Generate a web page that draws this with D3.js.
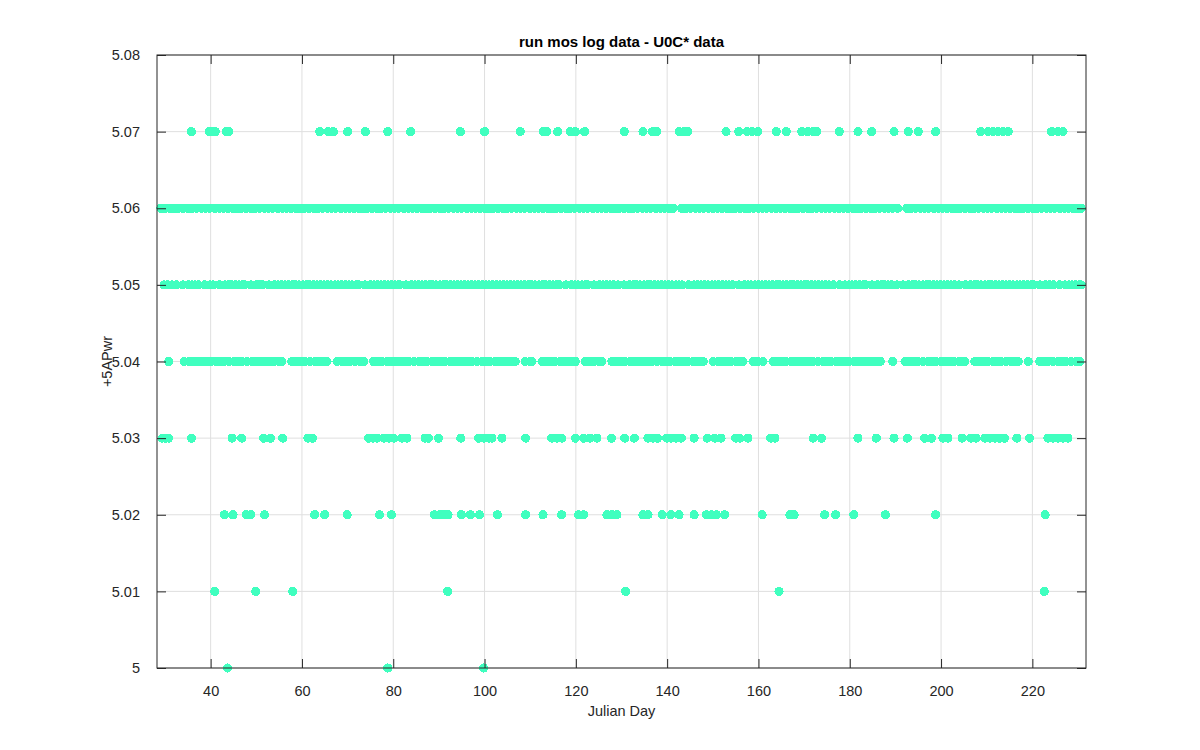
<!DOCTYPE html>
<html lang="en">
<head>
<meta charset="UTF-8">
<title>run mos log data - U0C* data</title>
<script src="https://cdn.jsdelivr.net/npm/d3@7"></script>
<style>
  body { margin: 0; background: #fff; font-family: "Liberation Sans", Arial, sans-serif; }
  svg { display: block; }
  .tick text { fill: #262626; font-size: 14.5px; }
</style>
</head>
<body>
<svg width="1200" height="750"></svg>
<script>
// julian day of each sample, grouped by the +5APwr reading
const day500 = [43.7, 78.8, 99.8];
const day501 = [40.9, 49.9, 58.0, 91.9, 130.9, 164.5, 222.6];
const day502 = [43.0, 44.9, 47.8, 48.8, 51.8, 62.8, 65.0, 69.9, 77.0, 79.6, 89.0, 90.2, 91.1, 92.0,
  94.9, 96.9, 98.9, 102.8, 109.0, 112.8, 116.9, 120.6, 121.7, 126.8, 127.9, 129.0, 134.7, 135.8,
  138.9, 140.8, 142.6, 145.9, 148.6, 149.7, 150.8, 152.6, 160.8, 166.9, 167.8, 174.5, 176.9, 180.9,
  187.8, 198.8, 222.8];
const day503 = [29.4, 30.1, 30.8, 35.8, 44.7, 46.8, 51.6, 53.1, 55.8, 61.3, 62.3, 74.6, 75.5, 76.4,
  77.9, 79.0, 80.1, 81.9, 83.0, 87.0, 87.7, 89.9, 94.8, 98.7, 99.8, 100.9, 101.6, 103.8, 109.0,
  114.7, 115.8, 116.9, 119.9, 121.7, 123.1, 124.6, 127.8, 130.7, 132.8, 135.8, 136.9, 137.9, 139.9,
  140.9, 142.0, 143.1, 145.9, 148.8, 150.4, 151.8, 155.0, 155.9, 157.7, 162.7, 163.6, 172.0, 173.8,
  181.8, 185.8, 189.7, 192.6, 196.4, 197.9, 200.4, 201.5, 204.6, 206.5, 207.7, 209.6, 210.7, 211.8,
  212.8, 213.9, 216.6, 219.4, 223.4, 224.5, 225.6, 226.7, 227.8];
const day504 = [30.8,
  34.2, 35.2, 36.1, 37.1, 38.2, 39.1, 40.0, 41.1, 42.1, 43.0, 44.0, 45.1, 46.0, 46.9, 48.0, 49.0,
  49.9, 50.9, 52.0, 52.9, 53.8, 54.9, 55.6,
  57.8, 58.8, 59.8, 60.7, 61.8, 62.8, 63.7, 64.7, 65.5,
  67.7, 68.7, 69.7, 70.6, 71.7, 72.7, 73.5,
  75.7, 76.6, 77.6, 78.7, 79.6, 80.5, 81.6, 82.6, 83.5, 84.5, 85.6, 86.5, 87.4, 88.5, 89.5, 90.4,
  91.4, 92.5, 93.4, 94.3, 95.4, 96.4, 97.3, 98.3, 99.4, 100.3, 101.2, 102.3, 103.3, 104.2, 105.2,
  106.0, 106.7,
  108.9, 109.9, 110.4,
  112.6, 113.6, 114.5, 115.5, 116.6, 117.5, 118.4, 119.5, 119.9,
  122.1, 123.0, 124.0, 125.0, 125.7,
  127.9, 128.9, 129.8, 130.8, 131.9, 132.8, 133.7, 134.8, 135.8, 136.7, 137.7, 138.8, 139.7, 140.6,
  141.7, 142.7, 143.6, 144.6, 145.7, 146.6, 147.5, 147.9,
  150.1, 151.1, 152.1, 153.0, 154.0, 155.1, 156.0, 156.6,
  158.8, 159.8, 161.0,
  163.2, 164.2, 165.1, 166.1, 167.2, 168.1, 169.0, 170.1, 171.1, 172.0, 173.0, 174.1, 175.0, 175.9,
  177.0, 178.0, 178.9, 179.9, 181.0, 181.9, 182.8, 183.9, 184.9, 185.8, 186.7,
  189.4,
  192.1, 193.1, 194.1, 195.0, 196.0, 197.1, 198.0, 198.9, 200.0, 201.0, 201.9, 202.9, 204.0, 204.9,
  205.2,
  207.4, 208.4, 209.3, 210.3, 211.4, 212.3, 213.2, 214.3, 215.3, 216.2, 216.9,
  219.1,
  221.6, 222.6, 223.5, 224.5, 225.6, 226.5, 227.4, 228.5, 229.5, 230.4];
const day505 = [29.8, 30.6, 31.5, 32.5,
  33.9, 35.1, 35.9, 36.6, 37.3,
  38.7, 39.9, 40.5,
  41.9, 43.1, 43.9, 44.6, 45.4, 46.2, 47.0, 47.4,
  48.8, 50.0, 50.7, 51.4,
  52.8, 54.0, 54.8, 55.5, 56.3, 57.1, 57.9, 58.6, 59.4, 60.2, 61.0, 61.7, 62.5, 63.3, 64.1, 64.8,
  65.6, 66.4, 67.2, 67.9, 68.7, 69.5, 70.3, 71.0, 71.8, 72.4,
  73.8, 75.0, 75.8, 76.5, 77.3, 78.1, 78.9, 79.6, 80.4, 81.0, 81.4,
  82.8, 84.0, 84.8, 85.5, 86.3, 87.1, 87.9, 88.6, 89.4, 90.2, 91.0, 91.7, 92.5, 93.3, 94.1, 94.8,
  95.6, 96.4, 97.2, 97.9, 98.7, 99.5, 100.3, 101.0, 101.8, 102.6, 103.4, 104.1, 104.9, 105.7,
  106.5, 107.2, 108.0, 108.8, 109.6, 110.3, 111.1, 111.9, 112.7, 113.4, 114.2, 115.0, 115.8, 116.4,
  117.8, 119.0, 119.8, 120.5, 121.3, 122.0, 122.6,
  124.0, 125.2, 126.0, 126.7, 127.5, 128.3, 129.2,
  130.6, 131.8, 132.6, 133.3, 134.1, 134.9, 135.7, 136.4, 137.2, 138.0, 138.8, 139.5, 140.3, 141.1,
  141.9, 142.6, 143.3,
  144.7, 145.9, 146.7, 147.4, 148.2, 149.0, 149.8, 150.5, 151.3, 152.1, 152.9, 153.6, 154.3,
  155.7, 156.9, 157.7, 158.4, 159.2, 160.0, 160.8, 161.5, 162.3, 163.1, 163.9, 164.6, 165.4, 166.2,
  167.0, 167.7, 168.5, 169.3, 170.1, 170.8, 171.6, 172.4, 173.2, 173.9, 174.7, 175.5, 176.4,
  177.8, 179.0, 179.8, 180.5, 181.3, 182.1, 182.9, 183.5,
  184.9, 186.1, 186.9, 187.6, 188.4, 189.2, 190.3,
  191.7, 192.9, 193.7, 194.4, 195.2, 196.0, 196.8, 197.5, 198.3, 199.1, 199.9, 200.6, 201.4, 202.2,
  203.0, 203.9,
  205.3, 206.5, 207.3, 208.0, 208.8, 209.6, 210.4, 211.1, 211.9, 212.7, 213.5, 214.2, 215.0, 215.8,
  216.6, 217.3, 218.1, 218.9, 219.7, 220.3,
  221.7, 222.9, 223.7, 224.6,
  226.0, 227.2, 228.0, 228.7, 229.5, 230.3, 230.7];
const day506 = [29.1, 30.0, 31.1, 32.0, 32.9, 34.0, 35.0, 35.9, 36.9, 38.0, 38.9, 39.8, 40.9, 41.9,
  42.8, 43.8, 44.9, 45.8, 46.7, 47.8, 48.8, 49.7, 50.7, 51.8, 52.7, 53.6, 54.7, 55.7, 56.6, 57.6,
  58.7, 59.6, 60.5, 61.6, 62.6, 63.5, 64.5, 65.6, 66.5, 67.4, 68.5, 69.5, 70.4, 71.4, 72.5, 73.4,
  74.3, 75.4, 76.4, 77.3, 78.3, 79.4, 80.3, 81.2, 82.3, 83.3, 84.2, 85.2, 86.3, 87.2, 88.1, 89.2,
  90.2, 91.1, 92.1, 93.2, 94.1, 95.0, 96.1, 97.1, 98.0, 99.0, 100.1, 101.0, 101.9, 103.0, 104.0,
  104.9, 105.9, 107.0, 107.9, 108.8, 109.9, 110.9, 111.8, 112.8, 113.9, 114.8, 115.7, 116.8, 117.8,
  118.7, 119.7, 120.8, 121.7, 122.6, 123.7, 124.7, 125.6, 126.6, 127.7, 128.6, 129.5, 130.6, 131.6,
  132.5, 133.5, 134.6, 135.5, 136.4, 137.5, 138.5, 139.4, 140.4, 141.3,
  143.2, 144.1, 145.1, 146.2, 147.1, 148.0, 149.1, 150.1, 151.0, 152.0, 153.1, 154.0, 154.9, 156.0,
  157.0, 157.9, 158.9, 160.0, 160.9, 161.8, 162.9, 163.9, 164.8, 165.8, 166.9, 167.8, 168.7, 169.8,
  170.8, 171.7, 172.7, 173.8, 174.7, 175.6, 176.7, 177.7, 178.6, 179.6, 180.7, 181.6, 182.5, 183.6,
  184.6, 185.5, 186.5, 187.6, 188.5, 189.4, 190.5,
  192.5, 193.4, 194.4, 195.5, 196.4, 197.3, 198.4, 199.4, 200.3, 201.3, 202.4, 203.3, 204.2, 205.3,
  206.3, 207.2, 208.2, 209.3, 210.2, 211.1, 212.2, 213.2, 214.1, 215.1, 216.2, 217.1, 218.0, 219.1,
  220.1, 221.0, 222.0, 223.1, 224.0, 224.9, 226.0, 227.0, 227.9, 228.9, 229.8, 230.7];
const day507 = [35.8, 39.7, 40.4, 41.0, 43.4, 44.0, 63.9, 65.8, 66.9, 70.0, 73.9, 78.8, 83.8, 94.7,
  100.0, 107.8, 112.9, 113.6, 116.0, 118.8, 119.9, 121.9, 130.6, 134.7, 136.8, 137.7, 142.7, 143.6,
  144.5, 152.9, 155.7, 157.5, 158.6, 159.8, 163.9, 166.1, 169.5, 170.8, 172.0, 172.8, 177.7, 181.8,
  184.8, 189.7, 192.8, 195.0, 198.8, 208.7, 210.3, 211.4, 212.5, 213.6, 214.7, 224.2, 225.6, 226.7];

const levels = [5.00, 5.01, 5.02, 5.03, 5.04, 5.05, 5.06, 5.07];
const daysByLevel = [day500, day501, day502, day503, day504, day505, day506, day507];
const xTicks = [40, 60, 80, 100, 120, 140, 160, 180, 200, 220];
const yTicks = [5, 5.01, 5.02, 5.03, 5.04, 5.05, 5.06, 5.07, 5.08];

const points = [];
levels.forEach((v, i) => daysByLevel[i].forEach(d => points.push({ day: d, value: v })));

const svg = d3.select("svg");
const margin = { left: 157, right: 114, top: 55, bottom: 82 };
const W = 1200, H = 750;
const iw = W - margin.left - margin.right, ih = H - margin.top - margin.bottom;
const g = svg.append("g").attr("transform", `translate(${margin.left},${margin.top})`);

const x = d3.scaleLinear().domain([28.25, 231.75]).range([0, iw]);
const y = d3.scaleLinear().domain([5, 5.08]).range([ih, 0]);
const axisColor = "#262626";
const tickLen = 9;

// grid
g.append("g").selectAll("line").data(xTicks).join("line")
  .attr("x1", d => x(d)).attr("x2", d => x(d)).attr("y1", 0).attr("y2", ih)
  .attr("stroke", "#dfdfdf").attr("stroke-width", 1);
g.append("g").selectAll("line").data(yTicks).join("line")
  .attr("y1", d => y(d)).attr("y2", d => y(d)).attr("x1", 0).attr("x2", iw)
  .attr("stroke", "#dfdfdf").attr("stroke-width", 1);

// data - aliased markers like the original export, so dense rows read as solid bands
g.append("g").attr("shape-rendering", "crispEdges")
  .selectAll("circle").data(points).join("circle")
  .attr("cx", d => x(d.day)).attr("cy", d => y(d.value))
  .attr("r", 4.6).attr("fill", "#40ffbf");

// axes (ticks point inward, mirrored on top/right)
const fmtY = d => d3.format(".2f")(d).replace(/\.?0+$/, "");
const xAxis = g.append("g").attr("transform", `translate(0,${ih})`)
  .call(d3.axisBottom(x).tickValues(xTicks).tickSize(-tickLen).tickPadding(18));
const yAxis = g.append("g")
  .call(d3.axisLeft(y).tickValues(yTicks).tickFormat(fmtY).tickSize(-tickLen).tickPadding(17));
const xTop = g.append("g")
  .call(d3.axisTop(x).tickValues(xTicks).tickSize(-tickLen).tickFormat(""));
const yRight = g.append("g").attr("transform", `translate(${iw},0)`)
  .call(d3.axisRight(y).tickValues(yTicks).tickSize(-tickLen).tickFormat(""));
[xAxis, yAxis, xTop, yRight].forEach(a => {
  a.select(".domain").remove();
  a.selectAll(".tick line").attr("stroke", axisColor);
  a.attr("font-family", null).attr("font-size", null);
});
xAxis.selectAll(".tick text").attr("dy", "0.71em");

g.append("rect").attr("width", iw).attr("height", ih)
  .attr("fill", "none").attr("stroke", axisColor).attr("stroke-width", 1);

// labels
svg.append("text").attr("x", margin.left + iw / 2).attr("y", 47)
  .attr("text-anchor", "middle").attr("font-weight", "bold").attr("font-size", 15)
  .attr("fill", "#000").text("run mos log data - U0C* data");
svg.append("text").attr("x", margin.left + iw / 2).attr("y", 716)
  .attr("text-anchor", "middle").attr("font-size", 14.5).attr("fill", axisColor)
  .text("Julian Day");
svg.append("text")
  .attr("transform", `translate(112,${margin.top + ih / 2}) rotate(-90)`)
  .attr("text-anchor", "middle").attr("font-size", 14.5).attr("fill", axisColor)
  .text("+5APwr");
</script>
</body>
</html>
